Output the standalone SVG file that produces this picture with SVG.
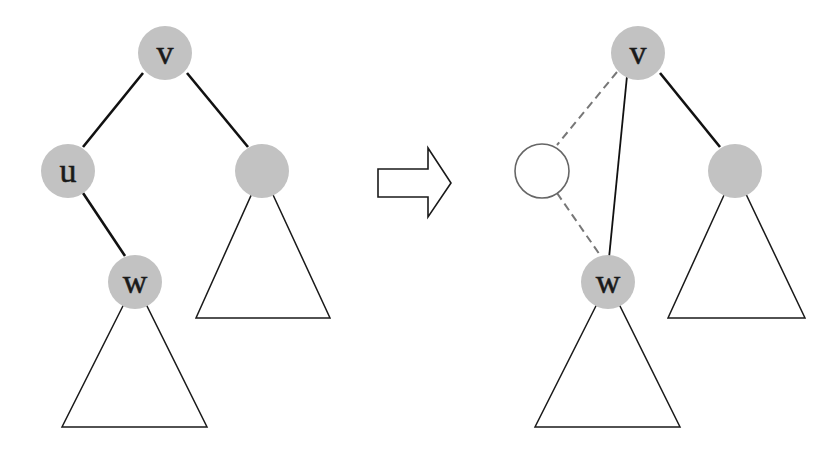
<svg xmlns="http://www.w3.org/2000/svg" width="838" height="460" viewBox="0 0 838 460">
  <style>
    .node { fill: #c2c2c2; stroke: none; }
    .empty { fill: #ffffff; stroke: #666666; stroke-width: 1.6; }
    .label { font-family: "Liberation Serif", "Times New Roman", serif; font-size: 34px; fill: #1a1a1a; stroke: #1a1a1a; stroke-width: 0.5; text-anchor: middle; }
    .subtree { fill: #ffffff; stroke: #1a1a1a; stroke-width: 1.5; stroke-linejoin: miter; }
    .edge { stroke: #111111; stroke-width: 2.6; stroke-linecap: butt; }
    .edge-thin { stroke: #111111; stroke-width: 1.8; }
    .edge-dash { stroke: #777777; stroke-width: 2; stroke-dasharray: 8 5; }
    .arrow { fill: #ffffff; stroke: #1a1a1a; stroke-width: 1.6; stroke-linejoin: miter; }
  </style>

  <!-- subtrees (drawn first, apex hidden under their roots) -->
  <g id="subtrees">
    <polygon class="subtree" points="262,171 196,318 330,318"/>
    <polygon class="subtree" points="135,282 62,427 207,427"/>
    <polygon class="subtree" points="735,171 668,318 805,318"/>
    <polygon class="subtree" points="608,282 535,427 680,427"/>
  </g>

  <!-- connectors -->
  <g id="connectors">
    <line class="edge" x1="143" y1="73" x2="83" y2="147"/>
    <line class="edge" x1="187" y1="73" x2="248" y2="147"/>
    <line class="edge" x1="83" y1="193" x2="125" y2="256"/>
    <line class="edge" x1="660" y1="73" x2="720" y2="147"/>
    <line class="edge-thin" x1="627" y1="76" x2="609" y2="258"/>
    <line class="edge-dash" x1="617" y1="72" x2="557" y2="145"/>
    <line class="edge-dash" x1="557" y1="193" x2="600" y2="255"/>
  </g>

  <!-- left tree -->
  <g id="left-v">
    <circle class="node" cx="165" cy="53" r="27"/>
    <text class="label" x="165" y="64">v</text>
  </g>
  <g id="left-u">
    <circle class="node" cx="68" cy="171" r="27"/>
    <text class="label" x="68" y="182">u</text>
  </g>
  <g id="left-right">
    <circle class="node" cx="262" cy="171" r="27"/>
  </g>
  <g id="left-w">
    <circle class="node" cx="135" cy="282" r="27"/>
    <text class="label" x="135" y="293">w</text>
  </g>

  <!-- transformation arrow -->
  <g id="transform-arrow">
    <polygon class="arrow" points="378,169 428,169 428,148 451,183 428,217 428,197 378,197"/>
  </g>

  <!-- right tree -->
  <g id="right-v">
    <circle class="node" cx="638" cy="53" r="27"/>
    <text class="label" x="638" y="64">v</text>
  </g>
  <g id="right-removed">
    <circle class="empty" cx="542" cy="171" r="27"/>
  </g>
  <g id="right-right">
    <circle class="node" cx="735" cy="171" r="27"/>
  </g>
  <g id="right-w">
    <circle class="node" cx="608" cy="282" r="27"/>
    <text class="label" x="608" y="293">w</text>
  </g>
</svg>
